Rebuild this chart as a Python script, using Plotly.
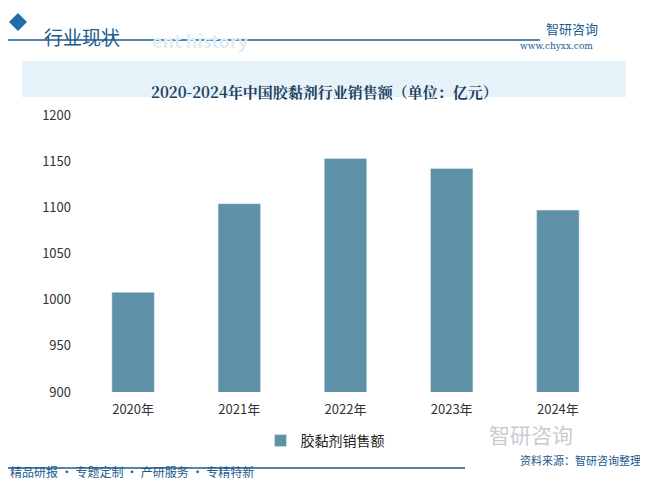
import plotly.graph_objects as go

years = ["2020年", "2021年", "2022年", "2023年", "2024年"]
sales = [1008, 1104, 1153, 1142, 1097]
yticks = [900, 950, 1000, 1050, 1100, 1150, 1200]

W, H = 648, 498
OFF = 8  # page body margin
def px(x): return (x - OFF) / W
def py(y): return 1 - (y - OFF) / H

fig = go.Figure(go.Bar(x=years, y=sales, marker_color="#5e91a8", width=0.4,
                       name="胶黏剂销售额", showlegend=True))
font = "Noto Sans CJK SC"
fig.update_layout(
    width=W, height=H, paper_bgcolor="white", plot_bgcolor="white",
    margin=dict(l=0, r=0, t=0, b=0, pad=0, autoexpand=False),
    xaxis=dict(domain=[px(80), px(611)], tickfont=dict(size=13, color="#333", family=font),
               showline=False, ticks="", automargin=False, ticklabelstandoff=8),
    yaxis=dict(domain=[py(392), py(115)], range=[900, 1200], tickvals=yticks,
               tickfont=dict(size=13, color="#333", family=font), showgrid=False,
               zeroline=False, ticks="", automargin=False, ticklabelstandoff=8),
    legend=dict(x=px(325), y=py(441), xanchor="center", yanchor="middle", orientation="h",
                font=dict(size=14, color="#222", family=font)),
    shapes=[
        dict(type="rect", xref="paper", yref="paper", x0=px(22), x1=px(626), y0=py(97), y1=py(61),
             fillcolor="#e6f2fa", line_width=0, layer="below"),
        dict(type="line", xref="paper", yref="paper", x0=px(8), x1=px(540), y0=py(40), y1=py(40),
             line=dict(color="#1a5b8c", width=1.5)),
        dict(type="line", xref="paper", yref="paper", x0=px(8), x1=px(465), y0=py(468), y1=py(468),
             line=dict(color="#1a5b8c", width=1.5)),
        dict(type="path", xref="paper", yref="paper",
             path=f"M {px(9)} {py(22)} L {px(18)} {py(13)} L {px(27)} {py(22)} L {px(18)} {py(31)} Z",
             fillcolor="#1f6fa8", line_width=0),
    ],
    annotations=[
        dict(text="行业现状", x=px(42), y=py(21), xref="paper", yref="paper", xanchor="left",
             showarrow=False, font=dict(size=19, color="#1a5b8c", family=font)),
        dict(text="<b>ent history</b>", x=px(150), y=py(25), xref="paper", yref="paper", xanchor="left",
             showarrow=False, font=dict(size=18, color="#e0ecf5", family=font)),
        dict(text="<b>2020-2024年中国胶黏剂行业销售额（单位：亿元）</b>", x=px(324), y=py(79),
             xref="paper", yref="paper", showarrow=False,
             font=dict(size=15, color="#1d3f5e", family="Noto Serif CJK SC, " + font)),
        dict(text="智研咨询", x=px(600), y=py(17), xref="paper", yref="paper", showarrow=False,
             font=dict(size=13, color="#1a5b8c", family=font)),
        dict(text="www.chyxx.com", x=px(595), y=py(39), xref="paper", yref="paper", showarrow=False,
             font=dict(size=9, color="#1a5b8c", family="DejaVu Serif")),
        dict(text="智研咨询", x=px(575), y=py(451), xref="paper", yref="paper", showarrow=False,
             font=dict(size=21, color="#c8ccd2", family=font)),
        dict(text="资料来源：智研咨询整理", x=px(643), y=py(470), xref="paper", yref="paper",
             xanchor="right", showarrow=False, font=dict(size=11, color="#1a5b8c", family=font)),
        dict(text="精品研报 · 专题定制 · 产研服务 · 专精特新", x=px(8), y=py(482), xref="paper",
             yref="paper", xanchor="left", showarrow=False,
             font=dict(size=12, color="#1a5b8c", family=font)),
    ],
)
fig.write_html("out.html")
